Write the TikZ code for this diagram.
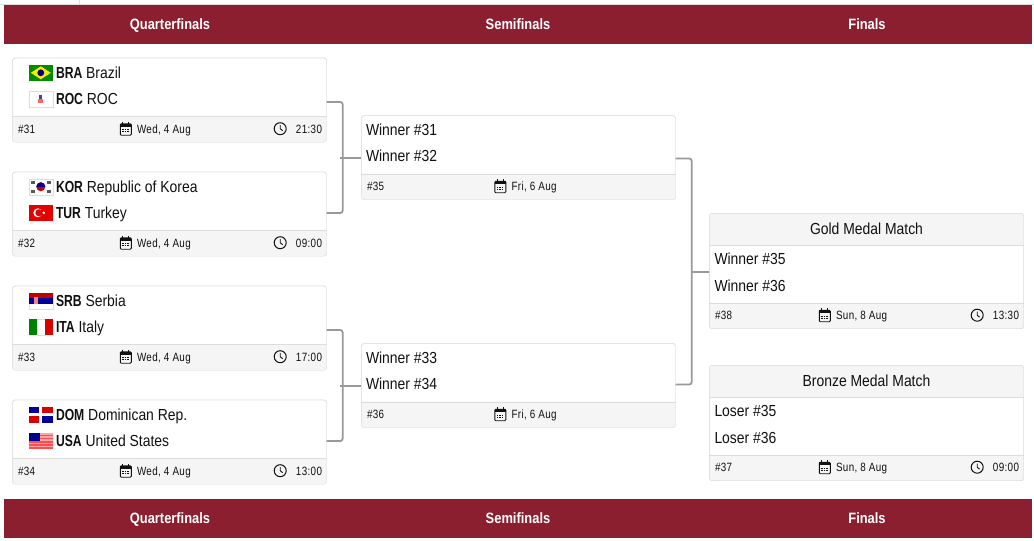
\documentclass[tikz,border=0pt]{standalone}
\usepackage{fontspec}
\setmainfont[FakeStretch=0.87,BoldFeatures={FakeStretch=0.76}]{Liberation Sans}
\newfontfamily\headfont[FakeStretch=0.86,BoldFeatures={FakeStretch=0.86}]{Liberation Sans}
\newfontfamily\footfont[FakeStretch=0.82,LetterSpace=3]{Liberation Sans}
\usetikzlibrary{calc}

\definecolor{barred}{HTML}{8B1F2F}
\definecolor{cardline}{HTML}{DDDDDD}
\definecolor{footfill}{HTML}{F5F5F5}
\definecolor{linkgray}{HTML}{999999}
\definecolor{inkblack}{HTML}{111111}

\tikzset{
  headbar/.style={fill=barred,minimum width=1028pt,minimum height=39pt,inner sep=0pt},
  headtext/.style={text=white,font=\headfont\fontsize{15}{18}\selectfont\bfseries,inner sep=0pt,text height=12pt,text depth=2pt},
  matchcard/.style={draw=cardline,fill=white,rounded corners=3pt,minimum width=314pt,minimum height=84pt,inner sep=0pt},
  finalcard/.style={matchcard,minimum height=115pt},
  teamtext/.style={anchor=west,inner sep=0pt,text=inkblack,font=\fontsize{16}{18}\selectfont,text height=13pt,text depth=2pt},
  foottext/.style={anchor=west,inner sep=0pt,text=inkblack,font=\footfont\fontsize{12}{14}\selectfont,text height=10pt,text depth=1pt},
  link/.style={draw=linkgray,line width=1.8pt,rounded corners=2.5pt},
  calicon/.pic={
    \draw[inkblack,line width=.9pt,rounded corners=1pt] (-5.5,-5) rectangle (5.5,6.5);
    \fill[inkblack] (-5.5,-5) rectangle (5.5,-2);
    \draw[inkblack,line width=1pt] (-3,-7) -- (-3,-4.5) (3,-7) -- (3,-4.5);
    \draw[inkblack,line width=1pt,dash pattern=on 1.4pt off 1pt] (-3.5,1) -- (3.5,1) (-3.5,3.2) -- (3.5,3.2);
  },
  clockicon/.pic={
    \draw[inkblack,line width=1pt] (0,0) circle (6pt);
    \draw[inkblack,line width=.9pt] (0,-3.5) -- (0,0) -- (2.5,2);
  },
  flagbra/.pic={
    \fill[green!55!black] (-12,-8) rectangle (12,8);
    \fill[yellow!90!orange] (-10,0) -- (0,-6.5) -- (10,0) -- (0,6.5) -- cycle;
    \fill[blue!55!black] (0,0) circle (3.4pt);
  },
  flagroc/.pic={
    \draw[cardline,fill=white] (-12,-8) rectangle (12,8);
    \fill[blue!50!gray] (-1.5,-4) rectangle (1.5,0);
    \fill[red!60!white] (-2.5,0) rectangle (2,4);
  },
  flagkor/.pic={
    \draw[cardline,fill=white] (-12,-8) rectangle (12,8);
    \fill[red!80!black] (0,0) circle (4.5pt);
    \fill[blue!60!black] (-4.5,0) arc (180:0:4.5pt) -- cycle;
    \foreach \cx/\cy in {-8/-4.5,8/-4.5,-8/4.5,8/4.5}
      \fill[gray!70!black] (\cx-1.8,\cy-1.5) rectangle (\cx+1.8,\cy+1.5);
  },
  flagtur/.pic={
    \fill[red!90!black] (-12,-8) rectangle (12,8);
    \fill[white] (-3,0) circle (4.5pt);
    \fill[red!90!black] (-1.8,0) circle (3.6pt);
    \fill[white] (3,0) circle (1.4pt);
  },
  flagsrb/.pic={
    \draw[cardline,fill=white] (-12,-8) rectangle (12,8);
    \fill[red!75!black] (-12,-8) rectangle (12,-2.7);
    \fill[blue!60!black] (-12,-2.7) rectangle (12,2.7);
    \fill[red!50!white] (-7,-4) rectangle (-3,3.5);
  },
  flagita/.pic={
    \fill[green!50!black] (-12,-8) rectangle (-4,8);
    \draw[cardline,fill=white] (-4,-8) rectangle (4,8);
    \fill[red!85!black] (4,-8) rectangle (12,8);
  },
  flagdom/.pic={
    \fill[white] (-12,-8) rectangle (12,8);
    \fill[blue!60!black] (-12,-8) rectangle (-1.5,-1.5);
    \fill[red!85!black] (1.5,-8) rectangle (12,-1.5);
    \fill[red!85!black] (-12,1.5) rectangle (-1.5,8);
    \fill[blue!60!black] (1.5,1.5) rectangle (12,8);
  },
  flagusa/.pic={
    \fill[red!35!white] (-12,-8) rectangle (12,8);
    \foreach \sy in {-6,-2.8,0.4,3.6,6.4}
      \fill[red!70!white] (-12,\sy) rectangle (12,\sy+1.4);
    \fill[blue!55!black] (-12,-8) rectangle (-1,0.5);
  }
}

% white card gets its grey band along the bottom
\newcommand{\footband}[1]{
  \path[fill=footfill] ([yshift=26pt]#1.south west) -- ([yshift=26pt]#1.south east)
    [rounded corners=3pt] -- (#1.south east) -- (#1.south west) [sharp corners] -- cycle;
  \draw[cardline] ([yshift=26pt]#1.south west) -- ([yshift=26pt]#1.south east);
  \draw[cardline,rounded corners=3pt] (#1.south west) rectangle (#1.north east);
}
\newcommand{\teamrow}[6]{
  \pic at ($(#1.north west)+(28.5,#3)$) {#4};
  \node[teamtext] (#1#2) at ($(#1.north west)+(43.5,#3)$) {\textbf{#5} #6};
}
\newcommand{\matchinfo}[4]{
  \node[foottext] (#1no) at ($(#1.south west)+(5.5,-13.5)$) {\##2};
  \pic at ($(#1.south west)+(#4,-13.5)$) {calicon};
  \node[foottext] (#1day) at ($(#1.south west)+(#4+11,-13.5)$) {#3};
}
\newcommand{\matchclock}[2]{
  \pic at ($(#1.south east)+(-46.5,-13.5)$) {clockicon};
  \node[foottext,anchor=east] (#1hour) at ($(#1.south east)+(-4.5,-13.5)$) {#2};
}

\begin{document}
\begin{tikzpicture}[x=1pt,y=-1pt,node distance=114pt]
  \useasboundingbox (0,0) rectangle (1034,541);

  \draw[cardline] (0,4) -- (1034,4) (79,0) -- (79,4);

  \node[headbar] (Htop) at (518,24.5) {};
  \node[headbar] (Hbot) at (518,518.5) {};
  \foreach \hname/\hx/\htext in {Q/170/Quarterfinals,S/518/Semifinals,F/867/Finals} {
    \node[headtext] (Ht\hname) at (\hx,24.5) {\htext};
    \node[headtext] (Hb\hname) at (\hx,518.5) {\htext};
  }

  \node[matchcard]  (Q31) at (169.5,100)                              {};
  \node[matchcard]  (Q32) [below of=Q31]                              {};
  \node[matchcard]  (Q33) [below of=Q32]                              {};
  \node[matchcard]  (Q34) [below of=Q33]                              {};
  \node[matchcard]  (S35) [node distance=349pt,right of=Q31,yshift=-57.5pt] {};
  \node[matchcard]  (S36) [node distance=228pt,below of=S35]          {};
  \node[finalcard]  (F38) [node distance=348pt,right of=S35,yshift=-113.5pt] {};
  \node[finalcard]  (F37) [node distance=152pt,below of=F38]          {};

  \foreach \card in {Q31,Q32,Q33,Q34,S35,S36,F38,F37} {
    \footband{\card}
  }

  % heading band of the two medal matches
  \foreach \card/\ctitle in {F38/Gold Medal Match,F37/Bronze Medal Match} {
    \path[fill=footfill] ([yshift=-32pt]\card.north west) -- ([yshift=-32pt]\card.north east)
      [rounded corners=3pt] -- (\card.north east) -- (\card.north west) [sharp corners] -- cycle;
    \draw[cardline] ([yshift=-32pt]\card.north west) -- ([yshift=-32pt]\card.north east);
    \draw[cardline,rounded corners=3pt] (\card.south west) rectangle (\card.north east);
    \node[teamtext,anchor=center] (\card head) at ($(\card.north)+(0,15.5)$) {\ctitle};
  }

  \teamrow{Q31}{a}{15}{flagbra}{BRA}{Brazil}
  \teamrow{Q31}{b}{41}{flagroc}{ROC}{ROC}
  \teamrow{Q32}{a}{15}{flagkor}{KOR}{Republic of Korea}
  \teamrow{Q32}{b}{41}{flagtur}{TUR}{Turkey}
  \teamrow{Q33}{a}{15}{flagsrb}{SRB}{Serbia}
  \teamrow{Q33}{b}{41}{flagita}{ITA}{Italy}
  \teamrow{Q34}{a}{15}{flagdom}{DOM}{Dominican Rep.}
  \teamrow{Q34}{b}{41}{flagusa}{USA}{United States}

  \node[teamtext] (S35a) at ($(S35.north west)+(4.5,15)$)   {Winner \#31};
  \node[teamtext] (S35b) at ($(S35.north west)+(4.5,41)$)   {Winner \#32};
  \node[teamtext] (S36a) at ($(S36.north west)+(4.5,15)$)   {Winner \#33};
  \node[teamtext] (S36b) at ($(S36.north west)+(4.5,41)$)   {Winner \#34};
  \node[teamtext] (F38a) at ($(F38.north west)+(5,45.5)$)   {Winner \#35};
  \node[teamtext] (F38b) at ($(F38.north west)+(5,72.5)$)   {Winner \#36};
  \node[teamtext] (F37a) at ($(F37.north west)+(5,45.5)$)   {Loser \#35};
  \node[teamtext] (F37b) at ($(F37.north west)+(5,72.5)$)   {Loser \#36};

  \matchinfo{Q31}{31}{Wed, 4 Aug}{113.5}  \matchclock{Q31}{21:30}
  \matchinfo{Q32}{32}{Wed, 4 Aug}{113.5}  \matchclock{Q32}{09:00}
  \matchinfo{Q33}{33}{Wed, 4 Aug}{113.5}  \matchclock{Q33}{17:00}
  \matchinfo{Q34}{34}{Wed, 4 Aug}{113.5}  \matchclock{Q34}{13:00}
  \matchinfo{S35}{35}{Fri, 6 Aug}{139}
  \matchinfo{S36}{36}{Fri, 6 Aug}{139}
  \matchinfo{F38}{38}{Sun, 8 Aug}{115.5}  \matchclock{F38}{13:30}
  \matchinfo{F37}{37}{Sun, 8 Aug}{115.5}  \matchclock{F37}{09:00}

  \draw[link] ([yshift=-2pt]Q31.east) -- ++(16,0) |- ([yshift=1pt]Q32.east);
  \draw[link] ([yshift=-2pt]Q33.east) -- ++(16,0) |- ([yshift=1pt]Q34.east);
  \draw[link] ([yshift=-1pt]S35.east) -- ++(16,0) |- ([yshift=1pt]S36.east);
  \draw[link] ([yshift=-.5pt]S35.west) -- ++(-21,0);
  \draw[link] ([yshift=-.5pt]S36.west) -- ++(-21,0);
  \draw[link] ([yshift=-1pt]F38.west) -- ++(-18,0);
\end{tikzpicture}
\end{document}
